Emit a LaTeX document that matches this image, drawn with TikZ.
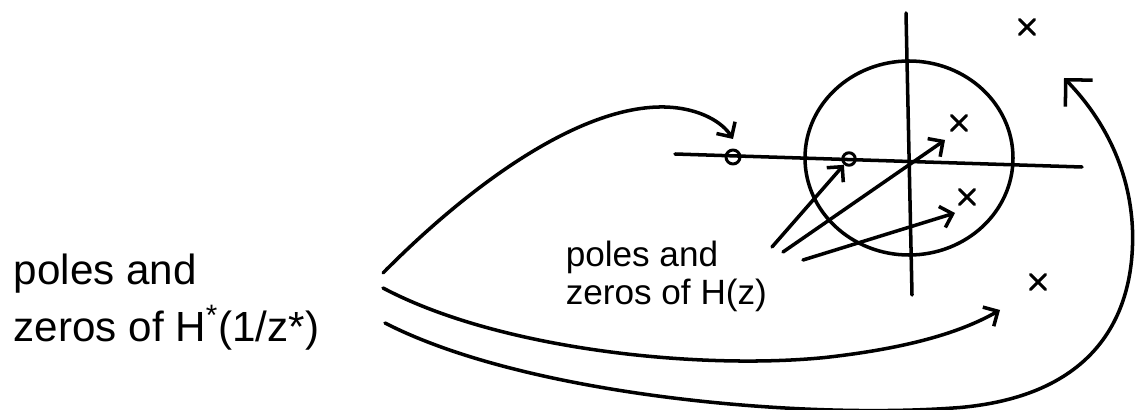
\documentclass[tikz,border=0pt]{standalone}
\usepackage{fontspec}
\setmainfont{Liberation Sans}
\usetikzlibrary{arrows.meta,shapes.misc}

\begin{document}
\begin{tikzpicture}[
    line width=2pt, line cap=round, line join=round,
    zero/.style={circle, draw, inner sep=0pt, minimum size=0.28cm, line width=1.7pt},
    pole/.style={cross out, draw, inner sep=0pt, minimum size=0.24cm, line width=1.7pt},
    arr/.style={-{Straight Barb[length=2.2mm, width=4.4mm]}},
    bigarr/.style={-{Straight Barb[length=3.8mm, width=7.6mm]}},
    label/.style={font=\fontsize{24}{32.4}\selectfont, align=left, inner sep=0pt},
    smalllabel/.style={font=\fontsize{20}{21.5}\selectfont, align=left, inner sep=0pt}
]
\useasboundingbox (0,0) rectangle (22.94,-8.2);

% Axes and unit circle
\draw (13.5,-3.08) -- (21.64,-3.34);
\draw (18.12,-0.26) -- (18.24,-5.9);
\draw (18.18,-3.16) ellipse [x radius=2.08, y radius=1.94];

% Zeros and poles
\node[zero] (zout) at (14.66,-3.14) {};
\node[zero, minimum size=0.25cm] (zin) at (16.98,-3.18) {};
\node[pole] (pA) at (20.54,-0.54) {};
\node[pole] (pB) at (19.18,-2.46) {};
\node[pole] (pC) at (19.34,-3.94) {};
\node[pole] (pD) at (20.76,-5.64) {};

% Labels
\node[label, anchor=north west] (lhs) at (0.24,-5.04) {poles and\\zeros of H\textsuperscript{*}(1/z*)};
\node[smalllabel, anchor=north west] (hz) at (11.28,-4.79) {poles and\\zeros of H(z)};

% Arrows from H(z) to its poles and zeros
\coordinate (s1) at (15.44,-4.94);
\coordinate (s2) at (15.66,-5.04);
\coordinate (s3) at (16.06,-5.2);
\draw[arr] (s1) -- (zin);
\draw[arr] (s2) -- ([shift={(-0.28,-0.34)}]pB.center);
\draw[arr] (s3) -- ([shift={(-0.24,-0.32)}]pC.center);

% Arrows from H*(1/z*) to the mirrored points
\coordinate (c1) at (7.66,-5.46);
\coordinate (c2) at (7.66,-5.76);
\coordinate (c3) at (7.7,-6.46);
\draw[arr] (c1) .. controls (9.4,-3.7) and (11.6,-2.1) .. (13.3,-2.14)
    .. controls (14.0,-2.16) and (14.45,-2.45) .. ([yshift=0.36cm]zout.center);
\draw[arr] (c2) .. controls (10,-7.0) and (14,-7.4) .. (16.5,-7.15)
    .. controls (18.3,-6.95) and (19.3,-6.6) .. ([shift={(-0.76,-0.56)}]pD.center);
\draw[bigarr] (c3) .. controls (10.5,-7.9) and (16,-8.4) .. (19.2,-8.15)
    .. controls (22.0,-7.9) and (22.7,-6.2) .. (22.65,-4.6)
    .. controls (22.6,-3.3) and (22.0,-2.3) .. ([shift={(0.74,-1.02)}]pA.center);

\end{tikzpicture}
\end{document}
